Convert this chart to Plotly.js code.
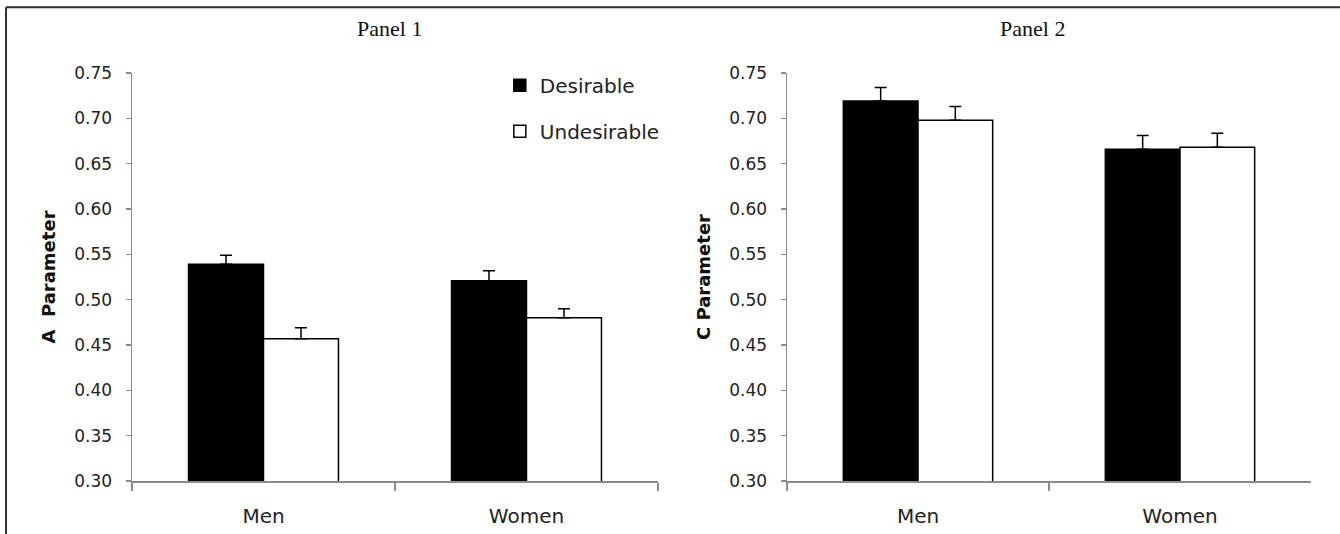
<!DOCTYPE html>
<html>
<head>
<meta charset="utf-8">
<script src="https://cdn.plot.ly/plotly-3.0.1.min.js"></script>
<style>html,body{margin:0;padding:0;background:#fff;}#chart{width:1340px;height:534px;}</style>
</head>
<body>
<div id="chart"></div>
<script>
const categories = ['Men', 'Women'];
const seriesNames = ['Desirable', 'Undesirable'];
const panel1Desirable = [0.539, 0.521];
const panel1DesirableErr = [0.010, 0.011];
const panel1Undesirable = [0.457, 0.480];
const panel1UndesirableErr = [0.012, 0.010];
const panel2Desirable = [0.719, 0.666];
const panel2DesirableErr = [0.015, 0.015];
const panel2Undesirable = [0.698, 0.668];
const panel2UndesirableErr = [0.015, 0.0155];
const panelTitles = ['Panel 1', 'Panel 2'];
const yTitles = ['A  Parameter', 'C Parameter'];

const fills = ['#000000', '#ffffff'];
function bar(name, y, err, idx, xa, ya, show) {
  return {
    type: 'bar', name: name, x: categories, y: y,
    xaxis: xa, yaxis: ya, showlegend: show, legendgroup: 'g' + idx,
    marker: {color: fills[idx], line: {color: '#000', width: 1.5}},
    error_y: {type: 'data', symmetric: false, array: err, arrayminus: err.map(() => 0),
              color: '#000', thickness: 1.5, width: 6},
    hoverinfo: 'none'
  };
}
const data = [
  bar(seriesNames[0], panel1Desirable, panel1DesirableErr, 0, 'x', 'y', true),
  bar(seriesNames[1], panel1Undesirable, panel1UndesirableErr, 1, 'x', 'y', true),
  bar(seriesNames[0], panel2Desirable, panel2DesirableErr, 0, 'x2', 'y2', false),
  bar(seriesNames[1], panel2Undesirable, panel2UndesirableErr, 1, 'x2', 'y2', false)
];

const axisGray = '#8c8c8c';
const tickFont = {family: 'DejaVu Sans', size: 17, color: '#222'};
function xaxis(domain, anchor) {
  return {
    domain: domain, anchor: anchor, type: 'category',
    showline: true, linecolor: axisGray, linewidth: 1.5,
    ticks: 'outside', tickson: 'boundaries', ticklen: 8, tickcolor: axisGray, tickwidth: 1.5,
    tickfont: {family: 'DejaVu Sans', size: 20, color: '#222'},
    ticklabelstandoff: 16, showgrid: false, zeroline: false, fixedrange: true
  };
}
function yaxis(anchor, title) {
  return {
    anchor: anchor, range: [0.3, 0.75], dtick: 0.05, tick0: 0.3, tickformat: '.2f',
    showline: true, linecolor: axisGray, linewidth: 1.5,
    ticks: 'outside', ticklen: 5, tickcolor: axisGray, tickwidth: 1.5,
    tickfont: tickFont, ticklabelstandoff: 10,
    showgrid: false, zeroline: false, fixedrange: true,
    title: {text: '<b>' + title + '</b>', font: {family: 'DejaVu Sans', size: 18, color: '#111'}, standoff: 14}
  };
}
const d1 = [132 / 1340, 658 / 1340];
const d2 = [787 / 1340, 1311 / 1340];
const layout = {
  width: 1340, height: 534,
  margin: {l: 0, r: 0, t: 73, b: 53},
  paper_bgcolor: '#fff', plot_bgcolor: '#fff',
  barmode: 'group', bargap: 0.43, bargroupgap: 0,
  xaxis: xaxis(d1, 'y'), yaxis: yaxis('x', yTitles[0]),
  xaxis2: xaxis(d2, 'y2'), yaxis2: yaxis('x2', yTitles[1]),
  showlegend: true,
  legend: {x: 0.373, y: 1.018, xanchor: 'left', yanchor: 'top', bgcolor: 'rgba(0,0,0,0)',
           font: {family: 'DejaVu Sans', size: 20, color: '#222'},
           traceorder: 'grouped', tracegroupgap: 17},
  annotations: [
    {text: panelTitles[0], xref: 'paper', yref: 'paper', x: (d1[0] + d1[1]) / 2 - 0.004, y: 1.11,
     xanchor: 'center', yanchor: 'middle',
     showarrow: false, font: {family: 'Liberation Serif', size: 22, color: '#111'}},
    {text: panelTitles[1], xref: 'paper', yref: 'paper', x: (d2[0] + d2[1]) / 2 - 0.012, y: 1.11,
     xanchor: 'center', yanchor: 'middle',
     showarrow: false, font: {family: 'Liberation Serif', size: 22, color: '#111'}}
  ],
  shapes: [
    {type: 'line', xref: 'paper', yref: 'paper', x0: 0.0045, x1: 1, y0: 1.161, y1: 1.161,
     line: {color: '#333', width: 2}},
    {type: 'line', xref: 'paper', yref: 'paper', x0: 0.0045, x1: 0.0045, y0: 1.161, y1: -0.14,
     line: {color: '#333', width: 2}}
  ]
};
Plotly.newPlot('chart', data, layout, {displayModeBar: false, staticPlot: true});
</script>
</body>
</html>
